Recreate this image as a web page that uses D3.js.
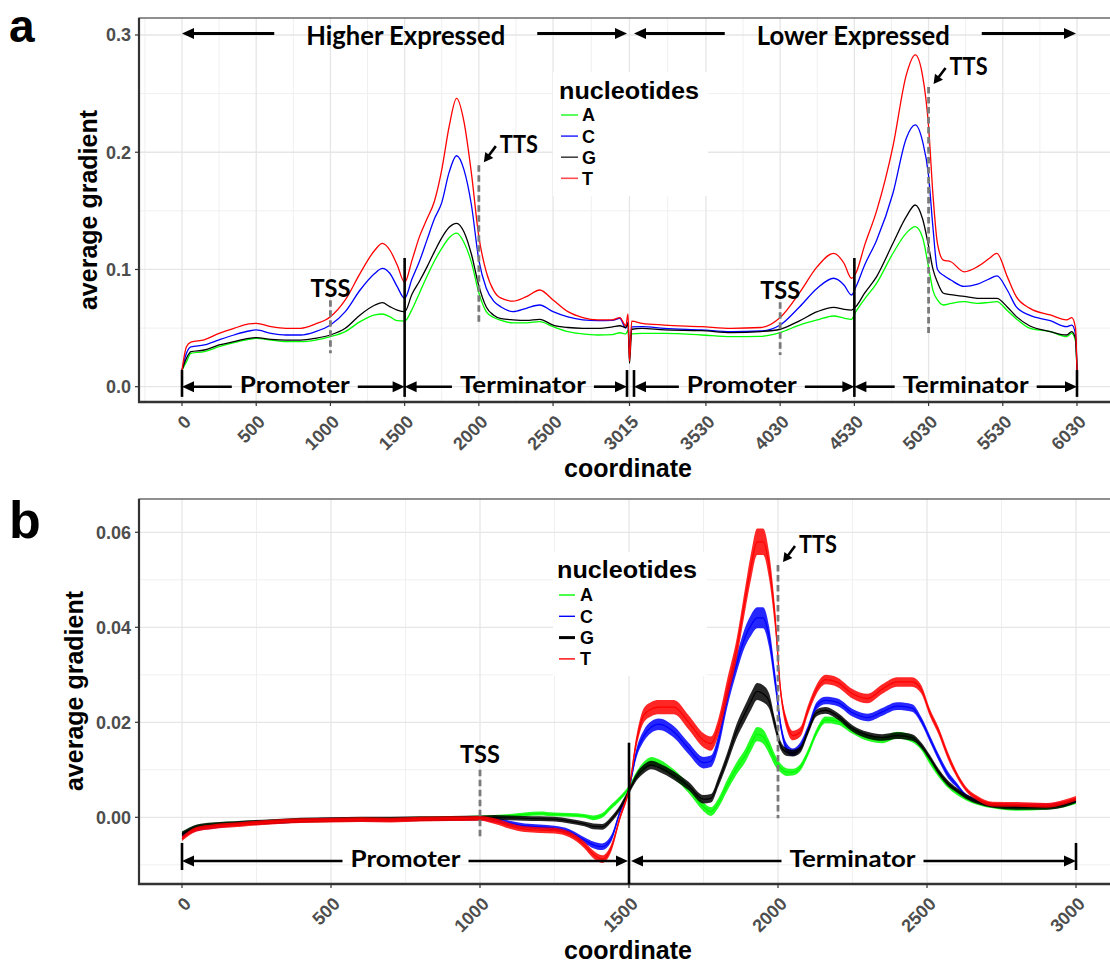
<!DOCTYPE html>
<html><head><meta charset="utf-8">
<script src="https://cdn.jsdelivr.net/npm/d3@7"></script>
<style>
body{margin:0;background:#fff;}
svg{display:block;}
</style></head>
<body>
<svg id="chart" width="1110" height="963"></svg>
<script>
// ================= DATA =================
const nucleotides = ["A", "C", "G", "T"];

// ---- panel a ----
const coordA = [0,30,60,150,250,350,450,500,600,700,800,900,1000,1100,1200,1300,1350,1400,1450,1500,1550,1600,1650,1700,1750,1800,1850,1900,1950,2000,2050,2100,2150,2230,2320,2410,2500,2600,2700,2800,2900,2950,2990,3005,3015,3030,3100,3250,3500,3700,3900,4030,4160,4280,4390,4460,4510,4540,4600,4680,4790,4880,4940,4990,5030,5060,5090,5130,5180,5270,5360,5440,5490,5560,5620,5710,5850,5960,5995,6020,6030];
const aA = [0.014,0.0213,0.0285,0.0299,0.0341,0.0375,0.0404,0.0413,0.0398,0.0384,
0.0384,0.0398,0.0427,0.047,0.0555,0.0612,0.062,0.0597,0.0563,0.056,
0.066,0.080,0.094,0.107,0.118,0.127,0.131,0.123,0.106,0.080,
0.064,0.059,0.0565,0.0545,0.0545,0.0555,0.0512,0.047,0.045,0.0441,
0.0445,0.046,0.045,0.048,0.035,0.045,0.0455,0.0455,0.0441,0.0427,
0.043,0.0462,0.0525,0.0569,0.0603,0.0585,0.0575,0.064,0.075,0.0882,
0.1138,0.131,0.1365,0.127,0.102,0.082,0.074,0.0697,0.071,0.0725,
0.0711,0.072,0.0725,0.065,0.058,0.050,0.047,0.0427,0.0455,0.039,
0.014];
const aC = [0.014,0.0285,0.034,0.0356,0.040,0.0441,0.0475,0.0484,0.0455,0.0441,
0.0441,0.047,0.0526,0.064,0.0825,0.0968,0.101,0.0968,0.0853,0.0754,
0.092,0.107,0.125,0.143,0.157,0.183,0.197,0.185,0.155,0.108,
0.084,0.073,0.068,0.064,0.0669,0.0697,0.064,0.0595,0.057,0.0563,
0.0565,0.0584,0.050,0.055,0.030,0.051,0.0512,0.0498,0.0484,0.047,
0.0475,0.0526,0.068,0.084,0.0925,0.0868,0.0782,0.085,0.104,0.125,
0.165,0.212,0.2233,0.209,0.180,0.135,0.100,0.095,0.091,0.0855,
0.0875,0.092,0.0945,0.0825,0.0683,0.061,0.0563,0.0512,0.0526,0.045,
0.014];
const aG = [0.014,0.0242,0.0299,0.0313,0.0356,0.0384,0.0413,0.0418,0.0404,0.0398,
0.0398,0.0413,0.0441,0.0498,0.0612,0.0697,0.0717,0.0683,0.0654,0.064,
0.079,0.090,0.102,0.115,0.127,0.136,0.1394,0.132,0.113,0.086,
0.068,0.061,0.058,0.057,0.0565,0.0575,0.0526,0.0505,0.0498,0.0498,
0.051,0.052,0.0505,0.054,0.020,0.049,0.0498,0.0484,0.0478,0.0461,
0.047,0.049,0.0562,0.064,0.0677,0.066,0.0654,0.0683,0.080,0.0939,
0.1223,0.145,0.155,0.143,0.120,0.100,0.089,0.0797,0.0785,0.077,
0.0754,0.0754,0.0754,0.068,0.060,0.052,0.047,0.0441,0.047,0.041,
0.014];
const aT = [0.014,0.034,0.038,0.040,0.0455,0.0498,0.0535,0.054,0.0512,0.0498,
0.0498,0.0535,0.0597,0.074,0.0967,0.1166,0.1223,0.1166,0.1038,0.089,
0.108,0.128,0.143,0.158,0.185,0.222,0.246,0.226,0.182,0.128,
0.098,0.082,0.0755,0.073,0.0768,0.0825,0.074,0.064,0.059,0.057,
0.057,0.059,0.052,0.062,0.022,0.056,0.054,0.0526,0.0512,0.0498,
0.0505,0.059,0.080,0.1024,0.1138,0.1053,0.0925,0.0968,0.121,0.150,
0.205,0.266,0.283,0.265,0.222,0.163,0.122,0.108,0.1066,0.098,
0.1024,0.1095,0.1138,0.0939,0.077,0.067,0.0612,0.057,0.059,0.050,
0.014];
const xTicksA = [0,500,1000,1500,2000,2500,3015,3530,4030,4530,5030,5530,6030];
const yTicksA = [0, 0.1, 0.2, 0.3];

// ---- panel b ----
const coordB = [0,50,100,200,300,400,500,600,700,800,900,1000,1050,1100,1150,1200,1250,1300,1350,1380,1410,1440,1470,1500,1525,1550,1575,1600,1650,1700,1750,1775,1800,1830,1860,1890,1910,1930,1950,1970,1990,2010,2030,2050,2075,2100,2130,2160,2200,2250,2300,2350,2400,2450,2480,2510,2540,2570,2600,2630,2670,2720,2800,2900,2960,3000];
const bA = [-0.0035,-0.002,-0.0016,-0.0012,-0.0009,-0.0006,-0.0005,-0.0004,-0.0004,-0.0003,
-0.0002,0.0,0.0001,0.0003,0.0006,0.0008,0.0006,0.0005,0.0003,-0.0001,
0.0004,0.0022,0.004,0.0062,0.0088,0.0108,0.0118,0.0113,0.0092,0.006,
0.0022,0.0012,0.003,0.0068,0.0102,0.013,0.0155,0.0175,0.017,0.0148,
0.012,0.0103,0.0095,0.0095,0.0105,0.0135,0.018,0.0205,0.0202,0.0183,
0.0168,0.0163,0.0173,0.0165,0.0148,0.0117,0.009,0.0068,0.0052,0.004,
0.003,0.0023,0.0018,0.002,0.0025,0.0032];
const bC = [-0.004,-0.0025,-0.002,-0.0013,-0.001,-0.0007,-0.0005,-0.0005,-0.0005,-0.0004,
-0.0003,-0.0002,-0.0006,-0.0012,-0.0018,-0.002,-0.0023,-0.003,-0.0048,-0.0058,
-0.0062,-0.0045,0.0012,0.006,0.0135,0.0172,0.019,0.0196,0.018,0.0145,
0.0115,0.0118,0.016,0.025,0.032,0.038,0.0405,0.042,0.042,0.038,
0.029,0.019,0.0145,0.0137,0.015,0.0185,0.0235,0.0246,0.0242,0.022,
0.021,0.0222,0.0234,0.023,0.0205,0.0165,0.0125,0.009,0.0068,0.0046,
0.0035,0.0026,0.0025,0.0025,0.003,0.0035];
const bG = [-0.0035,-0.002,-0.0016,-0.0012,-0.0009,-0.0006,-0.0005,-0.0004,-0.0004,-0.0003,
-0.0002,-0.0001,0.0,-0.0001,-0.0002,-0.0003,-0.0004,-0.0008,-0.0014,-0.0019,
-0.002,-0.0005,0.002,0.0055,0.0085,0.0102,0.011,0.0105,0.0088,0.0066,
0.0038,0.004,0.0075,0.0125,0.018,0.022,0.0245,0.0265,0.026,0.0245,
0.0195,0.015,0.0137,0.0135,0.0143,0.018,0.022,0.0225,0.0213,0.0187,
0.0173,0.0168,0.0172,0.0168,0.0152,0.0125,0.0095,0.0072,0.0057,0.0044,
0.0033,0.0025,0.0021,0.0021,0.0026,0.0035];
const bT = [-0.0045,-0.0025,-0.002,-0.0015,-0.001,-0.0007,-0.0006,-0.0005,-0.0006,-0.0004,
-0.0003,-0.0002,-0.0008,-0.0018,-0.0025,-0.0027,-0.0028,-0.0036,-0.0058,-0.0078,
-0.0088,-0.0065,0.0,0.006,0.016,0.0215,0.0228,0.0232,0.0232,0.020,
0.0162,0.0155,0.019,0.027,0.035,0.046,0.053,0.058,0.058,0.053,
0.042,0.026,0.0195,0.0172,0.018,0.0225,0.027,0.029,0.0284,0.026,
0.025,0.027,0.0285,0.0285,0.027,0.022,0.018,0.013,0.009,0.006,
0.004,0.0028,0.0027,0.0025,0.0032,0.004];
// half-width of the noisy band
const bNoiseA = [.0004,.0004,.0004,.0004,.0004,.0004,.0004,.0004,.0004,.0004,
.0004,.0004,.0004,.0004,.0004,.0004,.0004,.0004,.0004,.0005,
.0005,.0005,.0005,.0005,.0008,.0009,.0009,.0009,.0009,.0009,
.0009,.0009,.001,.0012,.0013,.0014,.0015,.0015,.0015,.0014,
.0012,.0009,.0008,.0007,.0007,.0007,.0007,.0007,.0007,.0007,
.0007,.0007,.0007,.0007,.0006,.0006,.0006,.0006,.0005,.0004,
.0004,.0004,.0004,.0004,.0004,.0004];
const bNoiseC = [.0004,.0004,.0004,.0004,.0004,.0004,.0004,.0004,.0004,.0004,
.0004,.0004,.0005,.0005,.0005,.0005,.0005,.0005,.0006,.0007,
.0007,.0007,.0005,.0005,.001,.0012,.0012,.0012,.0012,.0012,
.0012,.0012,.0015,.0018,.0018,.002,.0022,.0022,.0022,.0022,
.0018,.001,.001,.0008,.0008,.0008,.0008,.0008,.0008,.0008,
.0008,.0008,.0008,.0008,.0007,.0007,.0007,.0007,.0005,.0004,
.0004,.0004,.0004,.0004,.0004,.0004];
const bNoiseG = [.0005,.0005,.0005,.0005,.0005,.0005,.0005,.0005,.0005,.0005,
.0005,.0005,.0005,.0005,.0005,.0005,.0005,.0005,.0005,.0006,
.0006,.0006,.0006,.0006,.0008,.0009,.0009,.0009,.0009,.0009,
.0009,.0009,.001,.0012,.0015,.0017,.0018,.0018,.0018,.0016,
.0012,.0009,.0008,.0007,.0007,.0007,.0007,.0007,.0007,.0007,
.0007,.0007,.0007,.0007,.0006,.0006,.0006,.0006,.0005,.0005,
.0005,.0005,.0005,.0005,.0005,.0005];
const bNoiseT = [.0005,.0005,.0005,.0005,.0005,.0005,.0005,.0005,.0005,.0005,
.0005,.0005,.0006,.0006,.0006,.0006,.0006,.0006,.0007,.0008,
.0008,.0008,.0006,.0006,.0012,.0015,.0015,.0015,.0015,.0015,
.0015,.0015,.0018,.0022,.0022,.0025,.0028,.0028,.0028,.0028,
.0022,.0012,.0012,.001,.001,.001,.001,.001,.001,.001,
.001,.001,.001,.001,.0009,.0008,.0008,.0008,.0006,.0005,
.0005,.0005,.0005,.0005,.0005,.0005];
const xTicksB = [0,500,1000,1500,2000,2500,3000];
const yTicksB = [0, 0.02, 0.04, 0.06];

// ================= STYLE / LAYOUT =================
const colors = {A: "#00ff00", C: "#0000ff", G: "#000000", T: "#ff0000"};
const tickFont = "'Liberation Sans', Arial, sans-serif";
const annFont = "Lato, 'Open Sans', sans-serif";

const svg = d3.select("#chart");
svg.append("rect").attr("width", 1110).attr("height", 963).attr("fill", "#fff");

function arrow(g, x1, y1, x2, y2, opt) {
  const o = Object.assign({w: 3, head: 12, half: 5.5, color: "#000"}, opt || {});
  const dx = x2 - x1, dy = y2 - y1, L = Math.hypot(dx, dy);
  const ux = dx / L, uy = dy / L;
  const bx = x2 - ux * o.head, by = y2 - uy * o.head;
  g.append("line").attr("x1", x1).attr("y1", y1).attr("x2", bx + ux * 1).attr("y2", by + uy * 1)
    .attr("stroke", o.color).attr("stroke-width", o.w);
  g.append("path")
    .attr("d", `M${x2},${y2}L${bx - uy * o.half},${by + ux * o.half}L${bx + uy * o.half},${by - ux * o.half}Z`)
    .attr("fill", o.color);
}

function minorBetween(t) {
  const m = [];
  m.push(t[0] - (t[1] - t[0]) / 2);
  for (let i = 0; i < t.length - 1; i++) m.push((t[i] + t[i + 1]) / 2);
  m.push(t[t.length - 1] + (t[t.length - 1] - t[t.length - 2]) / 2);
  return m;
}

function drawPanel(cfg) {
  const g = svg.append("g");
  const {box, x, y} = cfg;
  const clipId = "clip" + cfg.id;
  svg.append("defs").append("clipPath").attr("id", clipId)
    .append("rect").attr("x", box.left).attr("y", box.top)
    .attr("width", box.right - box.left).attr("height", box.bottom - box.top);

  // grid
  const grid = g.append("g").attr("clip-path", `url(#${clipId})`);
  const yMinor = minorBetween(cfg.yTicks);
  yMinor.forEach(v => grid.append("line").attr("x1", box.left).attr("x2", box.right)
    .attr("y1", y(v)).attr("y2", y(v)).attr("stroke", "#f0f0f0").attr("stroke-width", 1));
  minorBetween(cfg.xTicks).forEach(v => grid.append("line").attr("y1", box.top).attr("y2", box.bottom)
    .attr("x1", x(v)).attr("x2", x(v)).attr("stroke", "#f0f0f0").attr("stroke-width", 1));
  cfg.yTicks.forEach(v => grid.append("line").attr("x1", box.left).attr("x2", box.right)
    .attr("y1", y(v)).attr("y2", y(v)).attr("stroke", "#e6e6e6").attr("stroke-width", 1.3));
  cfg.xTicks.forEach(v => grid.append("line").attr("y1", box.top).attr("y2", box.bottom)
    .attr("x1", x(v)).attr("x2", x(v)).attr("stroke", "#e6e6e6").attr("stroke-width", 1.3));

  // series
  const plot = g.append("g").attr("clip-path", `url(#${clipId})`);
  cfg.series.forEach((s, i) => {
    const key = nucleotides[i];
    const pts = cfg.coord.map((c, j) => ({c, v: s[j], n: cfg.noise ? cfg.noise[i][j] : 0}));
    if (cfg.noise) {
      const area = d3.area().x(d => x(d.c)).y0(d => y(d.v - d.n)).y1(d => y(d.v + d.n)).curve(d3.curveMonotoneX);
      plot.append("path").attr("d", area(pts)).attr("fill", colors[key]).attr("opacity", 0.85);
    }
    const line = d3.line().x(d => x(d.c)).y(d => y(d.v)).curve(d3.curveMonotoneX);
    plot.append("path").attr("d", line(pts)).attr("fill", "none")
      .attr("stroke", colors[key]).attr("stroke-width", cfg.lineW).attr("stroke-linejoin", "round");
  });

  // border + axes
  g.append("rect").attr("x", box.left).attr("y", box.top).attr("width", box.right - box.left)
    .attr("height", box.bottom - box.top).attr("fill", "none").attr("stroke", "#555").attr("stroke-width", 1.3);
  g.append("line").attr("x1", box.left).attr("x2", box.left).attr("y1", box.top).attr("y2", box.bottom + 1)
    .attr("stroke", "#333").attr("stroke-width", 2.2);
  g.append("line").attr("x1", box.left - 1).attr("x2", box.right).attr("y1", box.bottom).attr("y2", box.bottom)
    .attr("stroke", "#333").attr("stroke-width", 2.4);

  // y ticks
  cfg.yTicks.forEach(v => {
    g.append("line").attr("x1", box.left - 4).attr("x2", box.left).attr("y1", y(v)).attr("y2", y(v))
      .attr("stroke", "#333").attr("stroke-width", 1.2);
    g.append("text").attr("x", box.left - 8).attr("y", y(v)).attr("dy", "0.36em")
      .attr("text-anchor", "end").attr("font-family", tickFont).attr("font-weight", "bold")
      .attr("font-size", 18).attr("fill", "#4d4d4d").text(cfg.yFmt(v));
  });
  // x ticks
  cfg.xTicks.forEach(v => {
    g.append("line").attr("x1", x(v)).attr("x2", x(v)).attr("y1", box.bottom).attr("y2", box.bottom + 4)
      .attr("stroke", "#333").attr("stroke-width", 1.2);
    g.append("text").attr("transform", `translate(${x(v) + 10},${box.bottom + 21}) rotate(-45)`)
      .attr("text-anchor", "end").attr("font-family", tickFont).attr("font-weight", "bold")
      .attr("font-size", 18).attr("fill", "#4d4d4d").text(String(v));
  });
  // axis titles
  g.append("text").attr("x", cfg.xTitle[0]).attr("y", cfg.xTitle[1]).attr("text-anchor", "middle")
    .attr("font-family", tickFont).attr("font-weight", "bold").attr("font-size", 25).text("coordinate");
  g.append("text").attr("transform", `translate(${cfg.yTitle[0]},${cfg.yTitle[1]}) rotate(-90)`)
    .attr("text-anchor", "middle").attr("font-family", tickFont).attr("font-weight", "bold")
    .attr("font-size", 25).text("average gradient");
  // panel letter
  g.append("text").attr("x", 9).attr("y", cfg.letter[0]).attr("font-family", tickFont)
    .attr("font-weight", "bold").attr("font-size", cfg.letter[1]).text(cfg.id);
  return g;
}

function annText(g, str, x, yb, len, size) {
  return g.append("text").attr("x", x).attr("y", yb).attr("text-anchor", "middle")
    .attr("font-family", annFont).attr("font-weight", "bold").attr("font-size", size)
    .attr("textLength", len).attr("lengthAdjust", "spacingAndGlyphs").text(str);
}

function regionRow(g, cfg, rowV, segments, bars) {
  const {x, y} = cfg;
  const ry = y(rowV);
  bars.forEach(b => {
    g.append("line").attr("x1", x(b.at) + b.dx).attr("x2", x(b.at) + b.dx)
      .attr("y1", b.top === null ? cfg.box.bottom : y(b.top)).attr("y2", b.bot === null ? cfg.box.bottom : y(b.bot))
      .attr("stroke", "#000").attr("stroke-width", 2.6);
  });
  segments.forEach(s => {
    const x0 = x(s.from) + s.dl, x1 = x(s.to) + s.dr;
    const cx = x(s.at);
    annText(g, s.label, cx, ry + 6, s.len, 23);
    arrow(g, cx - s.len / 2 - 8, ry, x0, ry, {w: 2.6});
    arrow(g, cx + s.len / 2 + 8, ry, x1, ry, {w: 2.6});
  });
}

function dashedMark(g, cfg, m) {
  const {x, y} = cfg;
  const px = x(m.at);
  g.append("line").attr("x1", px).attr("x2", px).attr("y1", y(m.top)).attr("y2", y(m.bot))
    .attr("stroke", "#7a7a7a").attr("stroke-width", 2.8).attr("stroke-dasharray", "6.5,3.5");
  const ty = y(m.top);
  if (m.label === "TSS") {
    annText(g, "TSS", px, ty - m.gap, 40, 24);
  } else {
    annText(g, "TTS", px + 21 + 19, ty - 12, 38, 24);
    arrow(g, px + 17, ty - 19, px + 5, ty - 3, {w: 2.6, head: 9, half: 5});
  }
}

function legend(g, L) {
  g.append("rect").attr("x", L.x).attr("y", L.y).attr("width", L.w).attr("height", L.h).attr("fill", "#fff");
  g.append("text").attr("x", L.tx).attr("y", L.ty).attr("font-family", tickFont).attr("font-weight", "bold")
    .attr("font-size", 23).attr("textLength", 140).attr("lengthAdjust", "spacingAndGlyphs").text("nucleotides");
  nucleotides.forEach((k, i) => {
    const yy = L.ky + i * L.step;
    g.append("line").attr("x1", L.kx1).attr("x2", L.kx2).attr("y1", yy).attr("y2", yy)
      .attr("stroke", L.keyColors[i]).attr("stroke-width", L.keyW[i]);
    g.append("text").attr("x", L.lx).attr("y", yy).attr("dy", "0.36em").attr("font-family", tickFont)
      .attr("font-weight", "bold").attr("font-size", 18).text(k);
  });
}

// ================= PANEL a =================
const cfgA = {
  id: "a",
  box: {left: 139, right: 1117, top: 18, bottom: 402},
  x: d3.scaleLinear().domain([0, 6030]).range([182, 1077]),
  y: d3.scaleLinear().domain([0, 0.3]).range([386.7, 35]),
  xTicks: xTicksA, yTicks: yTicksA, yFmt: d3.format(".1f"),
  coord: coordA, series: [aA, aC, aG, aT], noise: null, lineW: 1.3,
  xTitle: [628, 477], yTitle: [97, 210], letter: [42, 46]
};
const gA = drawPanel(cfgA);
{
  const {x, y} = cfgA;
  // expression arrows
  const topY = y(0.3) - 1.5;
  [{label: "Higher Expressed", from: 0, to: 3015, dl: 0, dr: -2.5, len: 199},
   {label: "Lower Expressed", from: 3015, to: 6030, dl: 4.5, dr: -1, len: 193}].forEach(e => {
    const x0 = x(e.from) + e.dl, x1 = x(e.to) + e.dr, cx = (x(e.from) + x(e.to)) / 2;
    annText(gA, e.label, cx, 45, e.len, 26);
    arrow(gA, cx - e.len / 2 - 32, topY, x0, topY, {w: 3});
    arrow(gA, cx + e.len / 2 + 32, topY, x1, topY, {w: 3});
  });
  regionRow(gA, cfgA, 0, [
    {label: "Promoter", from: 0, to: 1500, at: 760, dl: 0, dr: 0, len: 110},
    {label: "Terminator", from: 1500, to: 3015, at: 2297, dl: 0, dr: -2.5, len: 126},
    {label: "Promoter", from: 3015, to: 4530, at: 3772, dl: 4.5, dr: 0, len: 110},
    {label: "Terminator", from: 4530, to: 6030, at: 5280, dl: 0, dr: 0, len: 126}
  ], [
    {at: 0, dx: 0, top: 0.0142, bot: -0.0087},
    {at: 1500, dx: 0, top: 0.1098, bot: -0.0087},
    {at: 3015, dx: -2.5, top: 0.0142, bot: -0.0087},
    {at: 3015, dx: 4.5, top: 0.0142, bot: -0.0087},
    {at: 4530, dx: 0, top: 0.1098, bot: -0.0087},
    {at: 6030, dx: 0, top: 0.0142, bot: -0.0087}
  ]);
  dashedMark(gA, cfgA, {label: "TSS", at: 1000, top: 0.0737, bot: 0.0285, gap: 3});
  dashedMark(gA, cfgA, {label: "TSS", at: 4030, top: 0.0720, bot: 0.0270, gap: 3});
  dashedMark(gA, cfgA, {label: "TTS", at: 2000, top: 0.189, bot: 0.055});
  dashedMark(gA, cfgA, {label: "TTS", at: 5030, top: 0.2557, bot: 0.0458});
  legend(gA, {x: 553, y: 72, w: 155, h: 124, tx: 559, ty: 99, kx1: 561, kx2: 578, ky: 115, step: 21.1, lx: 582,
    keyColors: ["#33ff33", "#3333ff", "#444", "#ff4d4d"], keyW: [1.6, 1.6, 1.6, 1.6]});
}

// ================= PANEL b =================
const cfgB = {
  id: "b",
  box: {left: 139, right: 1117, top: 499, bottom: 884},
  x: d3.scaleLinear().domain([0, 3000]).range([182, 1076]),
  y: d3.scaleLinear().domain([0, 0.06]).range([817.3, 532.3]),
  xTicks: xTicksB, yTicks: yTicksB, yFmt: d3.format(".2f"),
  coord: coordB, series: [bA, bC, bG, bT], noise: [bNoiseA, bNoiseC, bNoiseG, bNoiseT], lineW: 1.2,
  xTitle: [628, 959], yTitle: [83, 691], letter: [538, 52]
};
const gB = drawPanel(cfgB);
{
  regionRow(gB, cfgB, -0.0092, [
    {label: "Promoter", from: 0, to: 1500, at: 750, dl: 0, dr: -1, len: 110},
    {label: "Terminator", from: 1500, to: 3000, at: 2250, dl: 2, dr: 0, len: 126}
  ], [
    {at: 0, dx: 0, top: -0.0054, bot: -0.0111},
    {at: 1500, dx: 0, top: 0.0157, bot: null},
    {at: 3000, dx: 0, top: -0.0054, bot: -0.0111}
  ]);
  dashedMark(gB, cfgB, {label: "TSS", at: 1000, top: 0.0100, bot: -0.0041, gap: 6.5});
  dashedMark(gB, cfgB, {label: "TTS", at: 2000, top: 0.0531, bot: -0.0002});
  legend(gB, {x: 553, y: 552, w: 154, h: 124, tx: 557, ty: 578, kx1: 559, kx2: 575, ky: 595, step: 21.3, lx: 580,
    keyColors: ["#00ff00", "#0000ff", "#000", "#ff0000"], keyW: [1.4, 1.4, 3, 1.4]});
}
</script>
</body></html>
